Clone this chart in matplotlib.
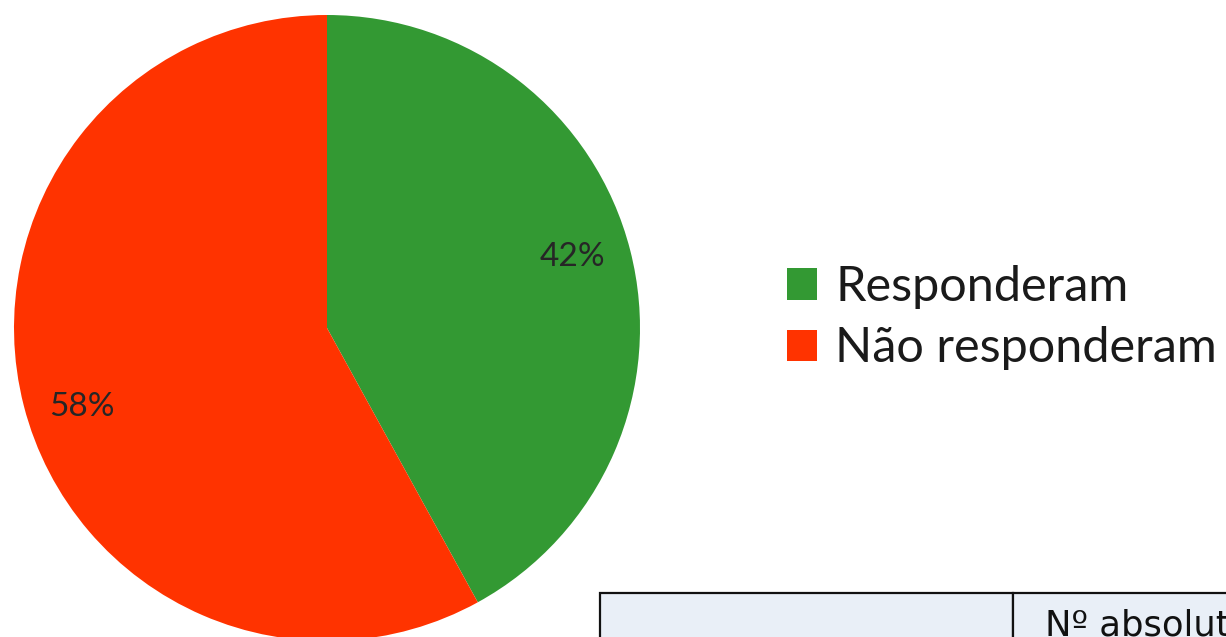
import matplotlib
matplotlib.use("Agg")
import matplotlib.pyplot as plt
import numpy as np

labels = ["Responderam", "Não responderam"]
values = [42, 58]
colors = ["#339933", "#FF3300"]
table_header = ["", "Nº absolutos"]

W, H = 1226, 637
fig = plt.figure(figsize=(W / 100, H / 100), dpi=100)
fig.patch.set_facecolor("white")

# Pie axes: centre (327, 328) px, radius 313 px
cx, cy, r = 327, 328, 313
ax = fig.add_axes([(cx - r) / W, (H - cy - r) / H, 2 * r / W, 2 * r / H])
wedges, texts, autotexts = ax.pie(
    values, colors=colors, startangle=90, counterclock=False,
    autopct="%1.0f%%", pctdistance=0.82, radius=1.0,
    textprops=dict(family="Lato", fontsize=24, color="#262626"),
    wedgeprops=dict(linewidth=0),
)
# small angular nudge of the percentage labels (like the original's placement)
for t in autotexts:
    x, y = t.get_position()
    d = np.hypot(x, y)
    a = np.arctan2(y, x) + np.deg2rad(2.6)
    t.set_position((d * np.cos(a), d * np.sin(a) - 0.012))
ax.set_xlim(-1, 1)
ax.set_ylim(-1, 1)
ax.set_aspect("equal")
ax.axis("off")

# Legend
fs = 35
fig.legend(
    wedges, labels, loc="upper left",
    bbox_to_anchor=(787 / W, (H - 265) / H),
    frameon=False, borderpad=0, borderaxespad=0,
    prop=dict(family="Lato", size=fs),
    handlelength=0.62, handleheight=0.62, handletextpad=0.37,
    labelspacing=0.36, labelcolor="#1a1a1a",
)

# Table at the bottom right (partially outside the picture)
tx0, ty0 = 600, 593
row_h = 64
col_w = [413, 420]
tax = fig.add_axes([tx0 / W, (H - ty0 - row_h) / H, sum(col_w) / W, row_h / H])
tax.axis("off")
tbl = tax.table(cellText=[table_header], cellLoc="left",
                colWidths=[c / sum(col_w) for c in col_w],
                bbox=[0, 0, 1, 1])
tbl.auto_set_font_size(False)
for (rr, cc), cell in tbl.get_celld().items():
    cell.set_facecolor("#E9EFF7")
    cell.set_edgecolor("#111111")
    cell.set_linewidth(1.6)
    cell.get_text().set_fontsize(25.5)
    cell.get_text().set_family("DejaVu Sans")
    cell.get_text().set_color("#111111")
    cell.PAD = 0.075

fig.savefig("out.png", dpi=100)
